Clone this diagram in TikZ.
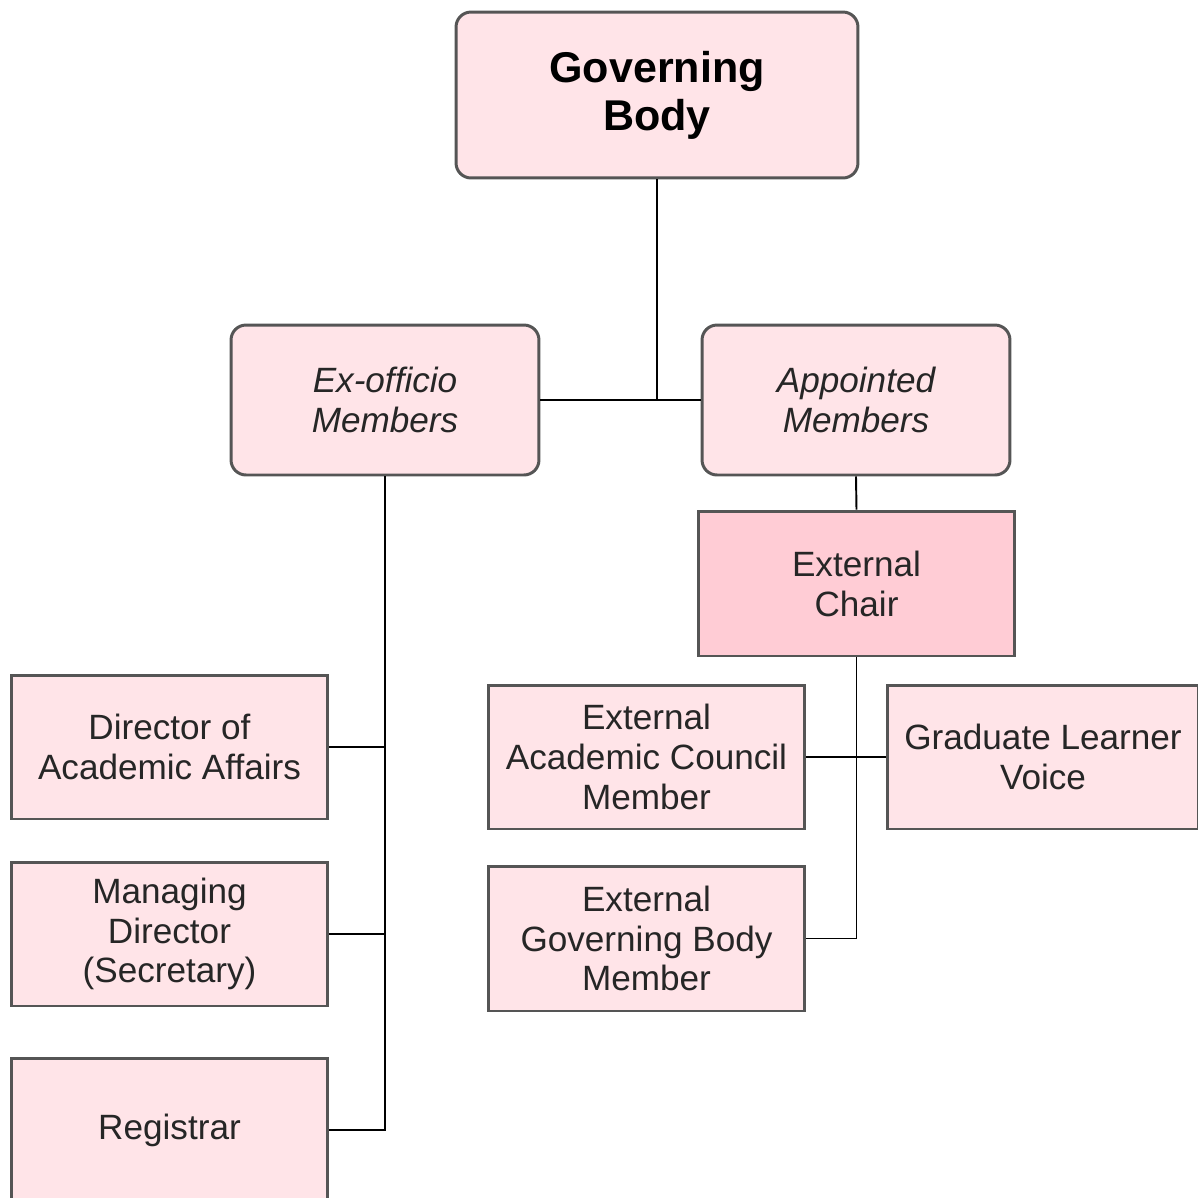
\documentclass[tikz,border=0pt]{standalone}
\usepackage{fontspec}
\setmainfont{Liberation Sans}
\usepackage[dvipsnames]{xcolor}
\usetikzlibrary{positioning}
\definecolor{boxpink}{HTML}{FFE4E8}
\definecolor{chairpink}{HTML}{FFCCD5}
\definecolor{boxedge}{HTML}{555555}
\tikzset{
  member/.style={draw=boxedge, line width=1.7pt, fill=boxpink, align=center, inner sep=0pt,
    text=black!85, font=\fontsize{20}{22.7}\selectfont},
  small/.style={member, minimum width=6.34cm, minimum height=2.88cm},
  group/.style={member, rounded corners=0.3cm, minimum width=6.16cm, minimum height=3cm,
    font=\fontsize{20}{22.7}\selectfont\itshape},
  link/.style={line width=1.1pt, black}
}

\begin{document}
\begin{tikzpicture}[x=0.02cm, y=-0.02cm]
	\clip (0,0) rectangle (1198,1198);
	\fill[white] (0,0) rectangle (1198,1198);
	%top box
	\node[member, rounded corners=0.3cm, minimum width=8.04cm, minimum height=3.32cm, text=black,
		font=\fontsize{24.5}{27.2}\selectfont\bfseries] (gov) at (657,95) {Governing\\Body};
	%member groups
	\node[group] (exo) at (385,400) {Ex-officio\\Members};
	\node[group] (app) at (856,400) {Appointed\\Members};
	\node[small, fill=chairpink, minimum height=2.9cm] (chair) at (856.5,583.5) {External\\Chair};
	%ex-officio members
	\node[small] (dir) at (169.5,747) {Director of\\Academic Affairs};
	\node[small] (mgd) at (169.5,934) {Managing\\Director\\(Secretary)};
	\node[small] (reg) at (169.5,1130) {Registrar};
	%appointed members
	\node[small] (eac) at (646.5,757) {External\\Academic Council\\Member};
	\node[small, minimum width=6.24cm] (glv) at (1043,757) {Graduate Learner\\Voice};
	\node[small, minimum height=2.9cm] (egb) at (646.5,938.5) {External\\Governing Body\\Member};
	%connect top
	\draw[link] (exo.east) -- (app.west);
	\draw[link] (gov.south) -- (gov.south |- exo.east);
	%connect ex-officio
	\coordinate (exoend) at (exo.south |- reg.east);
	\draw[link] (exo.south) -- (exoend) -- (reg.east);
	\draw[link] (dir.east) -- (dir.east -| exo.south);
	\draw[link] (mgd.east) -- (mgd.east -| exo.south);
	%connect appointed
	\draw[link] (app.south) -- (chair.north);
	\coordinate (chairend) at (chair.south |- egb.east);
	\draw[link] (chair.south) -- (chairend) -- (egb.east);
	\draw[link] (eac.east) -- (glv.west);
\end{tikzpicture}
\end{document}
